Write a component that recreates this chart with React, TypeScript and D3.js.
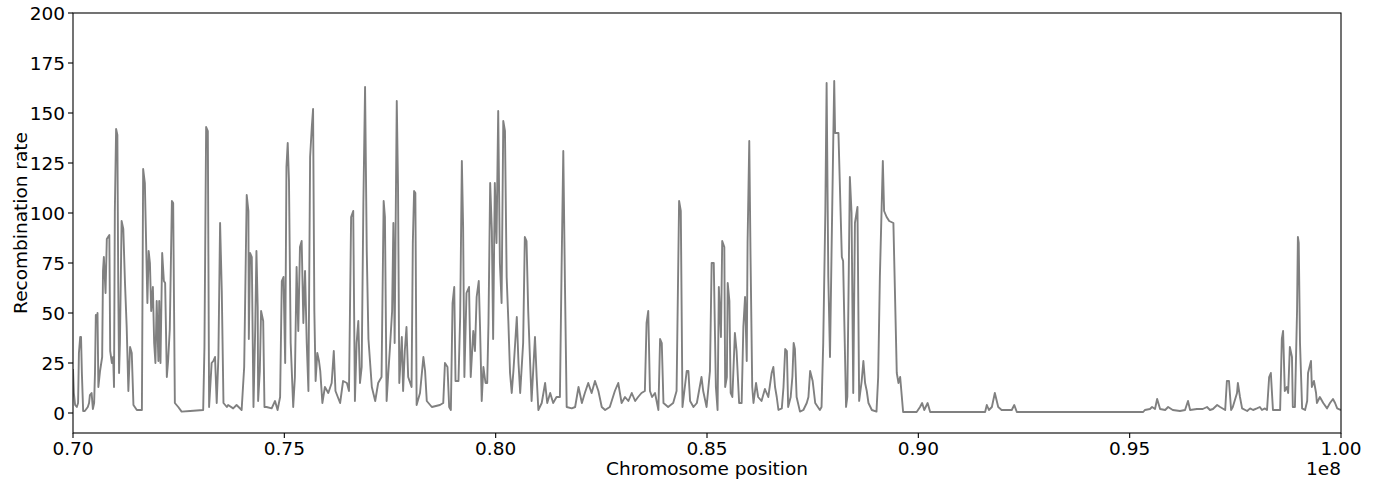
import React from "react";
import * as d3 from "d3";

// Chromosome position in Mb (x 1e6), recombination rate
const positionsMb: number[] = [
  70.00, 70.02, 70.05, 70.09, 70.12, 70.14, 70.17, 70.19, 70.21, 70.24, 70.28, 70.35, 70.38, 70.40, 70.44, 70.47, 70.50, 70.52, 70.54, 70.57, 70.58, 70.60, 70.64, 70.69, 70.71, 70.73, 70.77, 70.80, 70.83, 70.86, 70.88, 70.92, 70.95, 70.97, 70.99, 71.02, 71.05, 71.07, 71.09, 71.11, 71.15, 71.19, 71.23, 71.27, 71.31, 71.35, 71.39, 71.43, 71.51, 71.63,
  71.66, 71.70, 71.73, 71.76, 71.79, 71.82, 71.85, 71.89, 71.92, 71.95, 71.98, 72.02, 72.04, 72.07, 72.11, 72.15, 72.18, 72.22, 72.25, 72.29, 72.34, 72.37, 72.41, 72.49, 72.57, 72.77, 73.08, 73.11, 73.15, 73.19, 73.22, 73.28, 73.32, 73.36, 73.40, 73.44, 73.48, 73.52, 73.56, 73.64, 73.67, 73.79, 73.87, 73.99,
  74.05, 74.11, 74.15, 74.16, 74.19, 74.23, 74.27, 74.31, 74.34, 74.37, 74.38, 74.42, 74.45, 74.50, 74.53, 74.58, 74.70, 74.78, 74.84, 74.90, 74.94, 74.98, 75.02, 75.05, 75.08, 75.11, 75.15, 75.21, 75.25, 75.29, 75.33, 75.37, 75.41, 75.45, 75.49, 75.53, 75.57, 75.61, 75.65, 75.68, 75.71, 75.74, 75.78, 75.82, 75.85, 75.90, 75.96, 76.04, 76.12, 76.17, 76.21, 76.32, 76.39, 76.48, 76.53,
  76.58, 76.63, 76.67, 76.71, 76.75, 76.79, 76.83, 76.87, 76.91, 76.95, 76.99, 77.07, 77.15, 77.22, 77.30, 77.35, 77.38, 77.42, 77.46, 77.50, 77.55, 77.58, 77.61, 77.63, 77.66, 77.69, 77.72, 77.78, 77.81, 77.85, 77.89, 77.93, 78.01, 78.04, 78.07, 78.10, 78.13, 78.21, 78.29, 78.33, 78.37, 78.49, 78.68, 78.76, 78.80, 78.86, 78.90, 78.94, 78.98, 79.02, 79.05, 79.12,
  79.16, 79.20, 79.23, 79.26, 79.31, 79.37, 79.41, 79.47, 79.51, 79.55, 79.60, 79.63, 79.67, 79.71, 79.76, 79.80, 79.83, 79.87, 79.91, 79.94, 79.98, 80.02, 80.06, 80.10, 80.14, 80.18, 80.22, 80.26, 80.30, 80.34, 80.38, 80.42, 80.50, 80.54, 80.58, 80.65, 80.69, 80.73, 80.77, 80.81, 80.85, 80.93, 80.97, 81.01, 81.09, 81.17, 81.22, 81.29, 81.36, 81.44,
  81.52, 81.56, 81.60, 81.64, 81.68, 81.80, 81.88, 81.96, 82.04, 82.11, 82.19, 82.27, 82.35, 82.43, 82.51, 82.59, 82.70, 82.82, 82.90, 82.98, 83.06, 83.14, 83.22, 83.30, 83.37, 83.45, 83.53, 83.57, 83.61, 83.65, 83.70, 83.77, 83.85, 83.89, 83.93, 83.97, 84.08, 84.20, 84.28, 84.34, 84.38, 84.42, 84.52, 84.56, 84.60, 84.68, 84.76, 84.87, 84.91, 84.99,
  85.07, 85.11, 85.16, 85.21, 85.25, 85.28, 85.33, 85.36, 85.41, 85.43, 85.47, 85.49, 85.53, 85.56, 85.60, 85.66, 85.70, 85.76, 85.82, 85.86, 85.90, 85.94, 85.96, 86.00, 86.03, 86.07, 86.10, 86.16, 86.21, 86.29, 86.37, 86.45, 86.53, 86.57, 86.61, 86.65, 86.69, 86.77, 86.81, 86.85, 86.89, 86.92, 86.98, 87.02, 87.05, 87.08, 87.12, 87.20, 87.28, 87.36,
  87.40, 87.44, 87.50, 87.56, 87.67, 87.71, 87.75, 87.80, 87.83, 87.87, 87.91, 87.95, 87.99, 88.01, 88.03, 88.11, 88.19, 88.22, 88.29, 88.32, 88.38, 88.42, 88.46, 88.50, 88.56, 88.60, 88.66, 88.70, 88.74, 88.78, 88.82, 88.90, 89.01, 89.05, 89.09, 89.16, 89.19, 89.25, 89.31, 89.41, 89.49, 89.53, 89.57, 89.64, 89.96, 90.04, 90.09, 90.14, 90.22, 90.28,
  91.58, 91.62, 91.67, 91.74, 91.81, 91.89, 91.97, 92.21, 92.27, 92.33, 95.32, 95.36, 95.48, 95.53, 95.60, 95.65, 95.72, 95.84, 95.91, 96.02, 96.19, 96.31, 96.38, 96.43, 96.59, 96.73, 96.83, 96.90, 96.97, 97.07, 97.14, 97.26, 97.30, 97.35, 97.40, 97.44, 97.54, 97.56, 97.61, 97.66, 97.78, 97.85, 97.92, 98.01, 98.08, 98.13, 98.20, 98.25, 98.30, 98.34,
  98.39, 98.56, 98.60, 98.63, 98.67, 98.72, 98.75, 98.79, 98.84, 98.86, 98.91, 98.96, 98.98, 99.00, 99.03, 99.08, 99.15, 99.20, 99.22, 99.29, 99.31, 99.36, 99.41, 99.43, 99.50, 99.58, 99.67, 99.74, 99.81, 99.86, 99.91, 100.00,
];

const recombinationRate: number[] = [
  22, 10, 4, 3, 5, 30, 38, 38, 20, 1, 1, 3, 5, 9, 10, 2, 5, 20, 49, 46, 50, 13, 21, 28, 71, 78, 60, 87, 88, 89, 31, 25, 28, 13, 101, 142, 139, 65, 20, 35, 96, 92, 65, 43, 11, 33, 30, 4, 1.5, 1.5,
  122, 115, 85, 55, 81, 75, 51, 63, 35, 25, 56, 26, 56, 25, 80, 66, 65, 18, 26, 42, 106, 105, 5, 3, 0.7, 1, 1.5, 33, 143, 141, 3, 25, 26, 28, 5, 28, 95, 61, 5, 3, 4, 2.3, 4, 1.5,
  23, 109, 101, 37, 80, 78, 3, 41, 81, 53, 6, 21, 51, 46, 3, 3, 2.3, 6, 1.5, 8, 66, 68, 25, 123, 135, 116, 35, 3, 18, 73, 41, 83, 86, 45, 71, 35, 11, 128, 143, 152, 51, 16, 30, 26, 21, 5, 13, 10, 15, 31, 11, 5, 16, 15, 11,
  98, 101, 6, 35, 46, 15, 23, 105, 163, 81, 37, 13, 6, 15, 18, 106, 98, 6, 20, 33, 51, 95, 35, 85, 156, 113, 15, 38, 11, 31, 43, 18, 13, 85, 111, 110, 4, 10, 28, 21, 6, 3, 4, 5, 25, 23, 3, 1.5, 55, 63, 16, 16,
  48, 126, 93, 18, 60, 63, 18, 41, 31, 58, 66, 43, 6, 23, 15, 15, 45, 115, 91, 37, 115, 85, 151, 75, 55, 146, 141, 68, 46, 20, 10, 21, 48, 25, 10, 35, 88, 86, 51, 28, 6, 38, 18, 1.5, 5, 15, 5, 10, 5, 8,
  8, 73, 131, 63, 3, 2.3, 3, 13, 5, 10, 15, 10, 16, 11, 3, 1.5, 3, 11, 15, 5, 8, 6, 10, 6, 8, 10, 11, 45, 51, 11, 8, 10, 1.5, 37, 35, 5, 3, 5, 11, 106, 101, 3, 21, 21, 6, 3, 5, 18, 11, 3,
  21, 75, 75, 13, 1.5, 63, 38, 86, 83, 13, 18, 65, 56, 10, 8, 40, 31, 5, 5, 43, 58, 26, 85, 136, 78, 13, 5, 15, 8, 6, 12, 8, 20, 23, 13, 8, 1.5, 2.3, 13, 32, 31, 3, 8, 18, 35, 32, 8, 0.7, 1.5, 5,
  8, 21, 16, 5, 1.5, 3, 35, 101, 165, 68, 28, 85, 140, 166, 140, 140, 78, 76, 3, 8, 118, 100, 10, 95, 103, 6, 16, 26, 15, 11, 5, 1.5, 0.7, 18, 68, 126, 101, 98, 96, 95, 20, 15, 18, 0.5, 0.5, 3, 5, 1.5, 5, 0.5,
  0.5, 4, 1.5, 3, 10, 3, 1.5, 1.5, 4, 0.5, 0.5, 1.5, 2, 3, 2, 7, 2, 1.5, 3, 1.5, 1, 1.5, 6, 1.5, 2, 2, 3, 1.5, 2, 4, 3, 1.5, 16, 16, 1.5, 3, 10, 15, 8, 2.3, 1, 2.3, 1.5, 2.3, 3, 1.5, 2.3, 1.5, 18, 20,
  1.5, 1.5, 37, 41, 11, 13, 10, 33, 28, 3, 3, 51, 88, 85, 35, 2.3, 1.5, 6, 20, 26, 13, 16, 10, 5, 8, 5, 2.3, 5, 7, 5, 2.3, 1.5,
];

const xTicksMb: number[] = [70, 75, 80, 85, 90, 95, 100];
const xTickLabels: string[] = ["0.70", "0.75", "0.80", "0.85", "0.90", "0.95", "1.00"];
const yTicks: number[] = [0, 25, 50, 75, 100, 125, 150, 175, 200];

const W = 1379;
const H = 481;
const left = 73;
const right = 1341;
const top = 13;
const bottom = 433;
const FONT = "'DejaVu Sans', sans-serif";
const FS = 18.5;

export default function App() {
  const x = d3.scaleLinear().domain([70, 100]).range([left, right]);
  const y = d3.scaleLinear().domain([-10, 200]).range([bottom, top]);
  const n = Math.min(positionsMb.length, recombinationRate.length);
  const pts: [number, number][] = [];
  for (let i = 0; i < n; i++) pts.push([positionsMb[i], recombinationRate[i]]);
  const line = d3
    .line<[number, number]>()
    .x((d) => x(d[0]))
    .y((d) => y(d[1]));

  return (
    <svg
      width={W}
      height={H}
      style={{ position: "absolute", left: 0, top: 0, background: "#fff" }}
      fontFamily={FONT}
    >
      <rect x={0} y={0} width={W} height={H} fill="#fff" />
      <defs>
        <clipPath id="plotclip">
          <rect x={left} y={top} width={right - left} height={bottom - top} />
        </clipPath>
      </defs>
      <path
        d={line(pts) || ""}
        fill="none"
        stroke="#808080"
        strokeWidth={1.9}
        strokeLinejoin="round"
        clipPath="url(#plotclip)"
      />
      <rect
        x={left}
        y={top}
        width={right - left}
        height={bottom - top}
        fill="none"
        stroke="#000"
        strokeWidth={1.1}
      />
      {yTicks.map((t) => (
        <g key={"y" + t}>
          <line x1={left - 5} x2={left} y1={y(t)} y2={y(t)} stroke="#000" strokeWidth={1.1} />
          <text x={left - 8} y={y(t)} dy="0.36em" textAnchor="end" fontSize={FS} fill="#000">
            {t}
          </text>
        </g>
      ))}
      {xTicksMb.map((t, i) => (
        <g key={"x" + t}>
          <line x1={x(t)} x2={x(t)} y1={bottom} y2={bottom + 5} stroke="#000" strokeWidth={1.1} />
          <text x={x(t)} y={bottom + 22} textAnchor="middle" fontSize={FS} fill="#000">
            {xTickLabels[i]}
          </text>
        </g>
      ))}
      <text x={right} y={475} textAnchor="end" fontSize={FS} fill="#000">
        1e8
      </text>
      <text x={(left + right) / 2} y={475} textAnchor="middle" fontSize={FS} fill="#000">
        Chromosome position
      </text>
      <text
        transform={`translate(27, ${(top + bottom) / 2}) rotate(-90)`}
        textAnchor="middle"
        fontSize={FS}
        fill="#000"
      >
        Recombination rate
      </text>
    </svg>
  );
}
